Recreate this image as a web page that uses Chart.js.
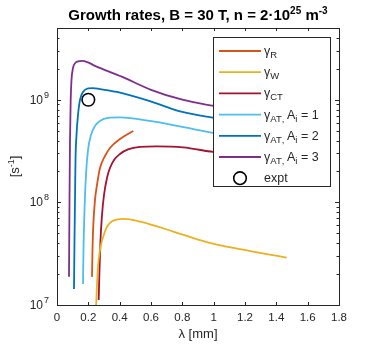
<!DOCTYPE html>
<html>
<head>
<meta charset="utf-8">
<script src="https://cdn.jsdelivr.net/npm/chart.js@4.4.0/dist/chart.umd.min.js"></script>
<style>
  body { margin: 0; background: #fff; }
  canvas { display: block; }
</style>
</head>
<body>
<canvas id="chart" width="375" height="350"></canvas>
<script>
// wavelength [mm] and growth rate [1/s] for each curve
const lamR = [0.2234, 0.2266, 0.2317, 0.2425, 0.2553, 0.2745, 0.3064, 0.338, 0.402, 0.487]
const gamR = [1.88e7, 3.43e7, 6.0e7, 1.05e8, 1.48e8, 2.16e8, 2.83e8, 3.39e8, 4.15e8, 4.97e8]

const lamW = [0.2485, 0.26, 0.274, 0.306, 0.349, 0.423, 0.53, 0.742, 0.955, 1.168, 1.466]
const gamW = [9.0e6, 2.2e7, 3.4e7, 5.2e7, 6.5e7, 6.9e7, 6.5e7, 5.2e7, 4.1e7, 3.5e7, 2.9e7]

const lamCT = [0.266, 0.2713, 0.2777, 0.2872, 0.300, 0.319, 0.338, 0.364, 0.402, 0.453, 0.53, 0.638, 0.804, 0.996, 1.2, 1.47]
const gamCT = [1.12e7, 2.19e7, 4.3e7, 7.5e7, 1.18e8, 1.73e8, 2.16e8, 2.59e8, 2.96e8, 3.28e8, 3.47e8, 3.51e8, 3.43e8, 3.1e8, 2.85e8, 2.55e8]

const lamAT1 = [0.166, 0.169, 0.1755, 0.185, 0.198, 0.217, 0.243, 0.274, 0.3255, 0.402, 0.594, 0.8, 1.0, 1.2, 1.47]
const gamAT1 = [1.6e7, 3.43e7, 8.4e7, 1.85e8, 3.24e8, 4.54e8, 5.56e8, 6.21e8, 6.65e8, 6.72e8, 6.21e8, 5.43e8, 4.74e8, 4.2e8, 3.6e8]

const lamAT2 = [0.1085, 0.1117, 0.1149, 0.1181, 0.1245, 0.134, 0.1468, 0.166, 0.198, 0.23, 0.274, 0.383, 0.6, 0.8, 1.0, 1.2, 1.47]
const gamAT2 = [1.43e7, 4.3e7, 1.05e8, 2.59e8, 4.54e8, 7.1e8, 9.96e8, 1.19e9, 1.29e9, 1.3e9, 1.27e9, 1.19e9, 9.6e8, 7.6e8, 6.65e8, 5.9e8, 5.2e8]

const lamAT3 = [0.0766, 0.0798, 0.083, 0.0874, 0.0926, 0.1021, 0.1181, 0.134, 0.1596, 0.198, 0.2425, 0.413, 0.6, 0.8, 1.0, 1.2, 1.47]
const gamAT3 = [1.88e7, 1.05e8, 4.06e8, 9.96e8, 1.56e9, 2.04e9, 2.29e9, 2.36e9, 2.39e9, 2.31e9, 2.14e9, 1.68e9, 1.25e9, 1.0e9, 8.7e8, 7.7e8, 6.6e8]

const lamExpt = [0.2]
const gamExpt = [1e9]

const xTicks = [0, 0.2, 0.4, 0.6, 0.8, 1, 1.2, 1.4, 1.6, 1.8]
const yTicks = [1e7, 1e8, 1e9]

const FONT = '"Liberation Sans", Arial, Helvetica, sans-serif'
const AXIS = '#262626'

function pts(xs, ys) {
  return xs.map((x, i) => ({ x: x, y: ys[i] }))
}
function curve(label, xs, ys, color) {
  return {
    label: label,
    data: pts(xs, ys),
    borderColor: color,
    backgroundColor: color,
    borderWidth: 1.8,
    pointRadius: 0,
    cubicInterpolationMode: 'monotone',
    fill: false,
    clip: 0
  }
}

// rich text: list of [text, size, dy]
function richWidth(ctx, parts, bold) {
  let w = 0
  parts.forEach(p => {
    ctx.font = (bold ? 'bold ' : '') + p[1] + 'px ' + FONT
    w += ctx.measureText(p[0]).width
  })
  return w
}
function drawRich(ctx, parts, x, y, bold) {
  ctx.textAlign = 'left'
  ctx.textBaseline = 'alphabetic'
  parts.forEach(p => {
    ctx.font = (bold ? 'bold ' : '') + p[1] + 'px ' + FONT
    ctx.fillText(p[0], x, y + p[2])
    x += ctx.measureText(p[0]).width
  })
}

const legendItems = [
  { color: '#D95319', parts: [['\u03b3', 12.5, 0], ['R', 9.5, 3]] },
  { color: '#EDB120', parts: [['\u03b3', 12.5, 0], ['W', 9.5, 3]] },
  { color: '#A2142F', parts: [['\u03b3', 12.5, 0], ['CT', 9.5, 3]] },
  { color: '#4DBEEE', parts: [['\u03b3', 12.5, 0], ['AT', 9.5, 3], [', ', 9.5, 3], ['A', 12.5, 0], ['i', 9.5, 3], [' = 1', 12.5, 0]] },
  { color: '#0072BD', parts: [['\u03b3', 12.5, 0], ['AT', 9.5, 3], [', ', 9.5, 3], ['A', 12.5, 0], ['i', 9.5, 3], [' = 2', 12.5, 0]] },
  { color: '#7E2F8E', parts: [['\u03b3', 12.5, 0], ['AT', 9.5, 3], [', ', 9.5, 3], ['A', 12.5, 0], ['i', 9.5, 3], [' = 3', 12.5, 0]] },
  { marker: true, parts: [['expt', 12.5, 0]] }
]

const matlabAxes = {
  id: 'matlabAxes',
  afterDraw(chart) {
    const ctx = chart.ctx
    const a = chart.chartArea
    const sx = chart.scales.x
    const sy = chart.scales.y
    ctx.save()
    ctx.strokeStyle = AXIS
    ctx.fillStyle = AXIS
    ctx.lineWidth = 1
    ctx.strokeRect(Math.round(a.left) + 0.5, Math.round(a.top) + 0.5, Math.round(a.width), Math.round(a.height))

    // x ticks, inside on top and bottom
    ctx.beginPath()
    xTicks.forEach(v => {
      const px = Math.round(sx.getPixelForValue(v)) + 0.5
      ctx.moveTo(px, a.bottom); ctx.lineTo(px, a.bottom - 3)
      ctx.moveTo(px, a.top); ctx.lineTo(px, a.top + 3)
    })
    // y ticks, major and minor on both sides
    for (let e = 7; e <= 9; e++) {
      for (let k = 1; k <= 9; k++) {
        const v = k * Math.pow(10, e)
        if (v > sy.max) break
        const py = Math.round(sy.getPixelForValue(v)) + 0.5
        const len = k === 1 ? 4 : 2.5
        ctx.moveTo(a.left, py); ctx.lineTo(a.left + len, py)
        ctx.moveTo(a.right, py); ctx.lineTo(a.right - len, py)
      }
    }
    ctx.stroke()

    // x tick labels
    ctx.font = '11.5px ' + FONT
    ctx.textAlign = 'center'
    ctx.textBaseline = 'middle'
    xTicks.forEach(v => {
      ctx.fillText(String(v), sx.getPixelForValue(v), a.bottom + 13)
    })
    // y tick labels 10^n
    yTicks.forEach(v => {
      const py = sy.getPixelForValue(v)
      const ex = String(Math.round(Math.log10(v)))
      ctx.font = '9px ' + FONT
      ctx.textAlign = 'right'
      ctx.textBaseline = 'alphabetic'
      const ew = ctx.measureText(ex).width
      ctx.fillText(ex, a.left - 8, py - 2)
      ctx.font = '12px ' + FONT
      ctx.textBaseline = 'middle'
      ctx.fillText('10', a.left - 9 - ew, py + 0.5)
    })

    // axis titles
    ctx.font = '13px ' + FONT
    ctx.textAlign = 'center'
    ctx.textBaseline = 'middle'
    ctx.fillText('\u03bb [mm]', (a.left + a.right) / 2, a.bottom + 29)

    ctx.save()
    ctx.translate(15, (a.top + a.bottom) / 2)
    ctx.rotate(-Math.PI / 2)
    const yt = [['[s', 13, 0], ['-1', 9, -5], [']', 13, 0]]
    drawRich(ctx, yt, -richWidth(ctx, yt, false) / 2, 4, false)
    ctx.restore()

    // title
    ctx.fillStyle = '#000'
    const tt = [['Growth rates, B = 30 T, n = 2\u00b710', 15, 0], ['25', 10, -6], [' m', 15, 0], ['-3', 10, -6]]
    drawRich(ctx, tt, (a.left + a.right) / 2 - richWidth(ctx, tt, true) / 2, 19.5, true)

    // legend box
    const lx = 213.5, ly = 37.5, lw = 117, lh = 149
    ctx.fillStyle = '#fff'
    ctx.fillRect(lx, ly, lw, lh)
    ctx.strokeStyle = AXIS
    ctx.lineWidth = 1
    ctx.strokeRect(lx, ly, lw, lh)
    legendItems.forEach((it, i) => {
      const cy = 51 + i * 21.2
      if (it.marker) {
        ctx.strokeStyle = '#000'
        ctx.lineWidth = 1.6
        ctx.beginPath()
        ctx.arc(240, cy, 6.3, 0, Math.PI * 2)
        ctx.stroke()
      } else {
        ctx.strokeStyle = it.color
        ctx.lineWidth = 1.8
        ctx.beginPath()
        ctx.moveTo(219, cy); ctx.lineTo(261, cy)
        ctx.stroke()
      }
      ctx.fillStyle = AXIS
      drawRich(ctx, it.parts, 264, cy + 4, false)
    })
    ctx.restore()
  }
}

new Chart(document.getElementById('chart'), {
  type: 'line',
  data: {
    datasets: [
      curve('R', lamR, gamR, '#D95319'),
      curve('W', lamW, gamW, '#EDB120'),
      curve('CT', lamCT, gamCT, '#A2142F'),
      curve('AT1', lamAT1, gamAT1, '#4DBEEE'),
      curve('AT2', lamAT2, gamAT2, '#0072BD'),
      curve('AT3', lamAT3, gamAT3, '#7E2F8E'),
      {
        label: 'expt',
        data: pts(lamExpt, gamExpt),
        showLine: false,
        pointRadius: 6.3,
        pointStyle: 'circle',
        pointBorderColor: '#000',
        pointBorderWidth: 1.6,
        pointBackgroundColor: 'rgba(0,0,0,0)',
        clip: 0
      }
    ]
  },
  options: {
    responsive: false,
    animation: false,
    devicePixelRatio: 1,
    layout: { padding: { left: 57, right: 36, top: 28, bottom: 45 } },
    plugins: {
      legend: { display: false },
      title: { display: false },
      tooltip: { enabled: false }
    },
    scales: {
      x: { type: 'linear', min: 0, max: 1.8, display: false },
      y: { type: 'logarithmic', min: 1e7, max: 5e9, display: false }
    }
  },
  plugins: [matlabAxes]
})
</script>
</body>
</html>
